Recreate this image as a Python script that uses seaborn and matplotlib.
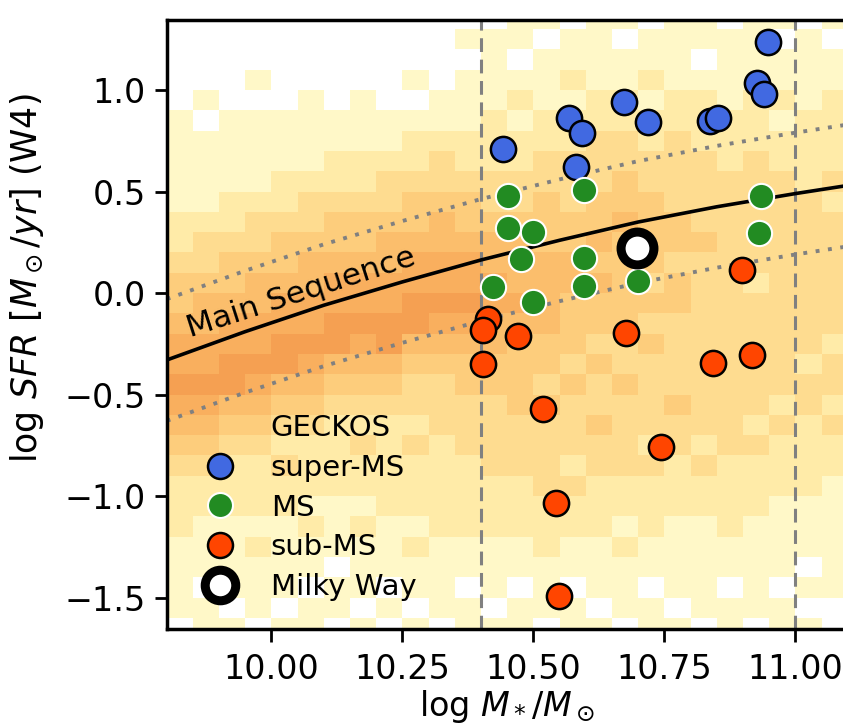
import numpy as np
import pandas as pd
import matplotlib
matplotlib.use("Agg")
import matplotlib.pyplot as plt
import seaborn as sns
from matplotlib.colors import ListedColormap, BoundaryNorm
from matplotlib.lines import Line2D

# ---------------- data ----------------
# GECKOS galaxies (log M*, log SFR)
super_ms_x = [10.442, 10.568, 10.593, 10.581, 10.672, 10.718, 10.837, 10.852, 10.926, 10.940, 10.947]
super_ms_y = [0.710, 0.862, 0.788, 0.621, 0.941, 0.842, 0.847, 0.862, 1.034, 0.980, 1.236]

ms_gal_x = [10.451, 10.451, 10.499, 10.476, 10.422, 10.499, 10.596, 10.596, 10.596, 10.699, 10.934, 10.930]
ms_gal_y = [0.478, 0.320, 0.300, 0.167, 0.030, -0.044, 0.507, 0.172, 0.034, 0.059, 0.478, 0.296]

sub_ms_x = [10.413, 10.403, 10.403, 10.470, 10.676, 10.518, 10.743, 10.543, 10.548, 10.843, 10.918, 10.899]
sub_ms_y = [-0.128, -0.182, -0.350, -0.212, -0.197, -0.571, -0.759, -1.034, -1.493, -0.345, -0.305, 0.113]

milky_way_x = [10.697]
milky_way_y = [0.222]

# main sequence relation and +-0.3 dex envelope
ms_line_x = [9.80, 9.95, 10.10, 10.25, 10.40, 10.55, 10.70, 10.85, 11.00, 11.10]
ms_line_y = [-0.330, -0.190, -0.060, 0.055, 0.163, 0.260, 0.350, 0.425, 0.490, 0.530]
ms_upper_y = [-0.030, 0.110, 0.240, 0.355, 0.463, 0.560, 0.650, 0.725, 0.790, 0.830]
ms_lower_y = [-0.630, -0.490, -0.360, -0.245, -0.137, -0.040, 0.050, 0.125, 0.190, 0.230]

mass_limits = [10.40, 11.00]

# background comparison-sample density (levels 0-7), one string per mass column,
# top (logSFR=1.35) to bottom (logSFR=-1.65)
density_cols = [
    "0000011111223445667654322211110",
    "0000101111233455667654322111011",
    "0000011112234456677543222111101",
    "0001011112334556676543222121110",
    "0000011122344566775432322111101",
    "0000111123345566765432221211011",
    "0000011223445667754322221110110",
    "0000111223445667654323221211101",
    "0000011233455667754322222111010",
    "0001012234456677543323222121101",
    "0000112334556676543332222211110",
    "0101112234456676544333222211011",
    "0111122233455665544333322211101",
    "1101212233455565444433322211011",
    "1011122334445555443433332221110",
    "0112122333445544434333232211011",
    "1111223334454544343343322211101",
    "1011223344544444334333322121110",
    "0112122334444343433332322211011",
    "1111223333443443333433222111101",
    "1101222333343333333332322111110",
    "0111122233333333333333222211011",
    "1111222333333233333323222111110",
    "1011212233333333333232221111011",
    "0111122223333333323322221110101",
    "1011222232333333233232211111100",
]
density_x_edges = [9.80 + 0.05 * i for i in range(27)]
density_y_edges = [-1.70 + 0.10 * i for i in range(32)]
density_colors = ["#fff8c8", "#ffeba8", "#fedc90", "#fdcd7c", "#fbbe6c", "#f9af5e", "#f5a052"]

xticks = [10.00, 10.25, 10.50, 10.75, 11.00]
xtick_labels = ["10.00", "10.25", "10.50", "10.75", "11.00"]
yticks = [-1.5, -1.0, -0.5, 0.0, 0.5, 1.0]
ytick_labels = ["\u22121.5", "\u22121.0", "\u22120.5", "0.0", "0.5", "1.0"]

# ---------------- plotting ----------------
sns.set_style("ticks")
plt.rcParams["font.family"] = ["DejaVu Sans"]
plt.rcParams["mathtext.fontset"] = "dejavusans"
plt.rcParams["text.color"] = "black"
plt.rcParams["axes.labelcolor"] = "black"
plt.rcParams["xtick.color"] = "black"
plt.rcParams["ytick.color"] = "black"

fig = plt.figure(figsize=(8.43, 7.25), dpi=100)
ax = fig.add_axes([0.1977, 0.1324, 0.808, 0.840])

grid = np.array([[int(ch) for ch in col] for col in density_cols]).T[::-1]
grid = np.ma.masked_equal(grid, 0)
cmap = ListedColormap(density_colors)
norm = BoundaryNorm(np.arange(0.5, 8.5, 1.0), cmap.N)
ax.pcolormesh(density_x_edges, density_y_edges, grid, cmap=cmap, norm=norm,
              shading="flat", zorder=0, linewidth=0, antialiased=False)

for xm in mass_limits:
    ax.axvline(xm, color="#808080", lw=2.2, ls=(0, (4.5, 2.5)), zorder=1)

ax.plot(ms_line_x, ms_line_y, color="black", lw=2.6, zorder=2)
ax.plot(ms_line_x, ms_upper_y, color="#808080", lw=2.8, ls=(0, (1, 2.2)), zorder=2)
ax.plot(ms_line_x, ms_lower_y, color="#808080", lw=2.8, ls=(0, (1, 2.2)), zorder=2)

ax.text(9.845, -0.218, "Main Sequence", rotation=17.8, rotation_mode="anchor",
        ha="left", va="baseline", fontsize=22.5, zorder=3)

df_super = pd.DataFrame({"mass": super_ms_x, "sfr": super_ms_y})
df_ms = pd.DataFrame({"mass": ms_gal_x, "sfr": ms_gal_y})
df_sub = pd.DataFrame({"mass": sub_ms_x, "sfr": sub_ms_y})
df_mw = pd.DataFrame({"mass": milky_way_x, "sfr": milky_way_y})

pt_size = 330
sns.scatterplot(data=df_super, x="mass", y="sfr", ax=ax, s=pt_size, color="#4169E1",
                edgecolor="black", linewidth=1.8, zorder=4, legend=False)
sns.scatterplot(data=df_ms, x="mass", y="sfr", ax=ax, s=pt_size, color="#228B22",
                edgecolor="white", linewidth=1.5, zorder=4, legend=False)
sns.scatterplot(data=df_sub, x="mass", y="sfr", ax=ax, s=pt_size, color="#FF4500",
                edgecolor="black", linewidth=1.8, zorder=4, legend=False)
sns.scatterplot(data=df_mw, x="mass", y="sfr", ax=ax, s=560, color="white",
                edgecolor="black", linewidth=6.5, zorder=5, legend=False)

ax.set_xlim(9.80, 11.10)
ax.set_ylim(-1.655, 1.345)
ax.set_xticks(xticks)
ax.set_xticklabels(xtick_labels)
ax.set_yticks(yticks)
ax.set_yticklabels(ytick_labels)
ax.tick_params(axis="both", which="major", length=9, width=2, color="black", direction="out")
ax.tick_params(axis="x", labelsize=24, pad=8)
ax.tick_params(axis="y", labelsize=24, pad=6)
for sp in ax.spines.values():
    sp.set_linewidth(2.5)
    sp.set_color("black")

ax.set_xlabel(r"log $M_*/M_\odot$", fontsize=24, labelpad=2)
ax.set_ylabel(r"log $SFR\ [M_\odot/yr]$ (W4)", fontsize=25)
ax.yaxis.set_label_coords(-0.177, 0.576)

handles = [
    Line2D([], [], ls="none", marker=None),
    Line2D([], [], ls="none", marker="o", ms=18, mfc="#4169E1", mec="black", mew=1.8),
    Line2D([], [], ls="none", marker="o", ms=18, mfc="#228B22", mec="white", mew=1.5),
    Line2D([], [], ls="none", marker="o", ms=18, mfc="#FF4500", mec="black", mew=1.8),
    Line2D([], [], ls="none", marker="o", ms=22, mfc="white", mec="black", mew=6.5),
]
labels = ["GECKOS", "super-MS", "MS", "sub-MS", "Milky Way"]
ax.legend(handles, labels, loc="lower left", bbox_to_anchor=(0.035, 0.046),
          frameon=False, fontsize=21, borderpad=0, borderaxespad=0,
          handlelength=2.0, handletextpad=0.75, labelspacing=0.4)

fig.savefig("out.png", dpi=100)
